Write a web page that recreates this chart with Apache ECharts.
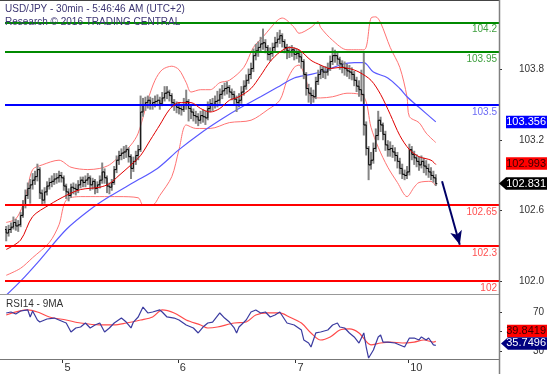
<!DOCTYPE html>
<html><head><meta charset="utf-8">
<script src="https://cdn.jsdelivr.net/npm/echarts@6/dist/echarts.min.js"></script>
<style>html,body{margin:0;padding:0;background:#fff}#c{width:554px;height:374px}</style>
</head><body><div id="c"></div>
<script>
// 30-min bars: [open, close, low, high]
const ohlc = [
[102.44,102.41,102.34,102.47],[102.41,102.44,102.38,102.48],[102.44,102.46,102.41,102.50],[102.46,102.50,102.44,102.55],[102.50,102.47,102.43,102.53],
[102.47,102.48,102.42,102.52],[102.48,102.56,102.46,102.59],[102.56,102.65,102.54,102.69],[102.65,102.73,102.62,102.78],[102.73,102.79,102.70,102.84],
[102.79,102.82,102.66,102.87],[102.82,102.86,102.78,102.92],[102.86,102.89,102.82,102.94],[102.89,102.95,102.85,103.00],[102.95,102.75,102.70,102.97],
[102.75,102.69,102.64,102.78],[102.69,102.76,102.66,102.80],[102.76,102.81,102.73,102.85],[102.81,102.84,102.78,102.88],[102.84,102.85,102.80,102.90],
[102.85,102.87,102.82,102.92],[102.87,102.88,102.83,102.92],[102.88,102.90,102.84,102.94],[102.90,102.88,102.84,102.93],[102.88,102.81,102.77,102.90],
[102.81,102.76,102.70,102.83],[102.76,102.73,102.68,102.79],[102.73,102.80,102.71,102.83],[102.80,102.79,102.74,102.84],[102.79,102.78,102.73,102.83],
[102.78,102.82,102.75,102.86],[102.82,102.86,102.79,102.89],[102.86,102.84,102.80,102.89],[102.84,102.86,102.80,102.90],[102.86,102.88,102.82,102.92],
[102.88,102.82,102.77,102.90],[102.82,102.85,102.78,102.88],[102.85,102.79,102.74,102.87],[102.79,102.82,102.75,102.85],[102.82,102.86,102.79,102.90],
[102.86,102.93,102.83,103.01],[102.93,102.88,102.83,102.96],[102.88,102.81,102.75,102.90],[102.81,102.80,102.74,102.84],[102.80,102.84,102.77,102.87],
[102.84,102.95,102.82,102.98],[102.95,103.03,102.92,103.07],[103.03,103.07,102.99,103.11],[103.07,103.09,103.03,103.13],[103.09,103.10,103.04,103.15],
[103.10,103.12,103.05,103.16],[103.12,103.06,103.01,103.14],[103.06,102.96,102.87,103.08],[102.96,103.02,102.93,103.06],[103.02,103.07,102.99,103.11],
[103.07,103.12,103.03,103.16],[103.12,103.44,103.10,103.58],[103.44,103.50,103.40,103.56],[103.50,103.52,103.45,103.57],[103.52,103.54,103.47,103.58],
[103.54,103.50,103.46,103.57],[103.50,103.52,103.46,103.56],[103.52,103.53,103.48,103.58],[103.53,103.54,103.49,103.59],[103.54,103.51,103.46,103.57],
[103.51,103.56,103.49,103.61],[103.56,103.60,103.53,103.66],[103.60,103.61,103.55,103.66],[103.61,103.58,103.53,103.63],[103.58,103.52,103.48,103.60],
[103.52,103.50,103.45,103.55],[103.50,103.48,103.43,103.53],[103.48,103.47,103.42,103.52],[103.47,103.46,103.41,103.51],[103.46,103.50,103.44,103.56],
[103.50,103.53,103.46,103.63],[103.53,103.47,103.36,103.55],[103.47,103.44,103.38,103.50],[103.44,103.41,103.36,103.47],[103.41,103.40,103.34,103.45],
[103.40,103.37,103.32,103.43],[103.37,103.41,103.34,103.45],[103.41,103.40,103.35,103.46],[103.40,103.39,103.33,103.45],[103.39,103.47,103.37,103.53],
[103.47,103.51,103.44,103.55],[103.51,103.50,103.45,103.56],[103.50,103.53,103.47,103.58],[103.53,103.54,103.48,103.62],[103.54,103.59,103.51,103.64],
[103.59,103.62,103.55,103.67],[103.62,103.64,103.58,103.69],[103.64,103.65,103.59,103.70],[103.65,103.61,103.56,103.67],[103.61,103.59,103.54,103.64],
[103.59,103.55,103.50,103.62],[103.55,103.52,103.44,103.58],[103.52,103.54,103.48,103.60],[103.54,103.61,103.51,103.66],[103.61,103.66,103.58,103.71],
[103.66,103.71,103.63,103.76],[103.71,103.76,103.68,103.81],[103.76,103.81,103.72,103.86],[103.81,103.92,103.78,103.98],[103.92,103.96,103.88,104.02],
[103.96,103.99,103.91,104.04],[103.99,104.02,103.95,104.08],[104.02,104.03,103.97,104.15],[104.03,103.99,103.94,104.06],[103.99,103.93,103.88,104.01],
[103.93,103.94,103.87,103.99],[103.94,103.99,103.91,104.03],[103.99,104.03,103.96,104.08],[104.03,104.06,103.99,104.12],[104.06,104.09,104.02,104.14],
[104.09,104.04,103.99,104.11],[104.04,103.99,103.94,104.06],[103.99,103.96,103.89,104.02],[103.96,103.95,103.90,104.00],[103.95,103.97,103.91,104.01],
[103.97,103.93,103.88,103.99],[103.93,103.94,103.89,103.98],[103.94,103.91,103.86,103.97],[103.91,103.87,103.81,103.94],[103.87,103.76,103.72,103.89],
[103.76,103.64,103.58,103.78],[103.64,103.60,103.52,103.68],[103.60,103.58,103.50,103.65],[103.58,103.57,103.52,103.63],[103.57,103.70,103.55,103.74],
[103.70,103.76,103.67,103.80],[103.76,103.80,103.72,103.84],[103.80,103.78,103.73,103.83],[103.78,103.78,103.72,103.83],[103.78,103.81,103.75,103.86],
[103.81,103.87,103.79,103.92],[103.87,103.92,103.84,103.99],[103.92,103.92,103.86,103.97],[103.92,103.89,103.84,103.95],[103.89,103.85,103.80,103.91],
[103.85,103.82,103.77,103.88],[103.82,103.81,103.75,103.87],[103.81,103.79,103.74,103.85],[103.79,103.78,103.72,103.84],[103.78,103.76,103.71,103.82],
[103.76,103.71,103.66,103.79],[103.71,103.66,103.61,103.74],[103.66,103.63,103.57,103.71],[103.63,103.59,103.53,103.80],[103.59,103.33,103.24,103.96],
[103.33,103.13,103.07,103.36],[103.13,102.99,102.86,103.15],[102.99,103.03,102.95,103.10],[103.03,103.13,103.00,103.18],[103.13,103.24,103.10,103.30],
[103.24,103.37,103.20,103.45],[103.37,103.33,103.27,103.40],[103.33,103.25,103.20,103.35],[103.25,103.16,103.11,103.28],[103.16,103.12,103.06,103.20],
[103.12,103.13,103.06,103.19],[103.13,103.10,103.05,103.16],[103.10,103.07,103.02,103.14],[103.07,103.02,102.96,103.10],[103.02,102.96,102.91,103.05],
[102.96,102.91,102.87,103.00],[102.91,102.90,102.86,102.95],[102.90,102.93,102.87,102.98],[102.93,103.12,102.90,103.17],[103.12,103.08,103.03,103.15],
[103.08,103.05,102.99,103.11],[103.05,103.02,102.97,103.08],[103.02,102.99,102.94,103.06],[102.99,103.02,102.96,103.07],[103.02,102.98,102.92,103.05],
[102.98,102.96,102.90,103.03],[102.96,102.93,102.88,103.00],[102.93,102.90,102.86,102.97],[102.90,102.88,102.84,102.94],[102.88,102.83,102.81,102.91]
];
// indicator lines: [barIndex, value]
const ma20 = [[0,102.27],[6,102.35],[11,102.55],[18,102.65],[25,102.73],[31,102.78],[39,102.80],[43,102.83],[47,102.90],[52,102.99],[56,103.07],[60,103.20],[64,103.33],[68,103.46],[72,103.52],[77,103.52],[81,103.47],[85,103.44],[89,103.47],[93,103.54],[97,103.57],[102,103.64],[106,103.75],[110,103.87],[114,103.95],[118,103.99],[122,103.97],[127,103.88],[131,103.84],[135,103.81],[139,103.82],[143,103.81],[147,103.78],[152,103.71],[156,103.59],[160,103.42],[164,103.24],[168,103.12],[172,103.06],[177,103.03],[179,102.993]];
const bbUpper = [[0,102.50],[4,102.53],[7,102.65],[9,102.80],[11,102.95],[15,102.99],[22,103.03],[27,102.97],[34,102.95],[39,102.96],[43,102.99],[47,103.06],[52,103.16],[55,103.26],[59,103.54],[62,103.71],[65,103.80],[69,103.83],[72,103.80],[75,103.69],[77,103.61],[81,103.63],[85,103.63],[89,103.69],[93,103.71],[99,103.82],[103,103.99],[107,104.08],[113,104.22],[115,104.24],[120,104.16],[122,104.11],[127,104.16],[130,104.21],[131,104.16],[136,104.05],[142,103.97],[149,103.97],[152,104.24],[154,104.25],[156,104.20],[160,103.99],[164,103.82],[167,103.57],[168,103.40],[172,103.35],[175,103.26],[179,103.18]];
const bbLower = [[0,102.05],[6,102.11],[11,102.20],[18,102.33],[22,102.48],[25,102.69],[31,102.72],[39,102.72],[47,102.72],[55,102.71],[57,102.65],[61,102.65],[64,102.73],[69,102.89],[72,103.12],[75,103.33],[79,103.30],[85,103.30],[93,103.35],[102,103.37],[109,103.46],[114,103.54],[117,103.71],[120,103.82],[122,103.84],[125,103.71],[127,103.57],[131,103.56],[136,103.57],[142,103.60],[149,103.57],[152,103.31],[155,103.14],[159,102.97],[163,102.84],[167,102.72],[170,102.80],[172,102.84],[177,102.85],[179,102.81]];
const maLong = [[0,101.88],[6,102.00],[14,102.18],[25,102.44],[35,102.61],[43,102.72],[53,102.84],[63,102.96],[72,103.12],[81,103.26],[89,103.37],[97,103.47],[106,103.57],[113,103.65],[120,103.73],[127,103.76],[134,103.80],[139,103.84],[145,103.86],[149,103.86],[153,103.78],[159,103.73],[164,103.64],[167,103.57],[172,103.48],[179,103.356]];
const rsi = [[0,69.0],[2,70.0],[4,67.9],[6,71.0],[9,72.1],[10,64.9],[11,71.0],[13,61.8],[14,59.7],[17,62.8],[20,63.8],[22,61.8],[24,59.7],[25,58.7],[27,49.5],[29,53.6],[31,54.6],[33,58.7],[35,53.6],[37,56.7],[39,58.7],[41,49.5],[43,53.6],[45,58.7],[48,63.8],[50,59.7],[52,53.6],[53,59.7],[55,64.9],[57,75.1],[59,69.0],[61,70.0],[64,72.1],[65,70.0],[67,64.9],[70,63.8],[72,61.8],[75,56.7],[78,53.6],[80,48.5],[82,54.6],[84,58.7],[86,59.7],[89,69.0],[91,63.8],[93,59.7],[95,53.6],[96,48.5],[97,54.6],[100,61.8],[102,70.0],[104,72.1],[106,69.0],[108,70.0],[110,64.9],[112,66.9],[114,70.0],[117,58.7],[120,56.7],[123,51.5],[124,41.3],[126,38.2],[127,34.1],[129,48.5],[131,49.5],[134,51.5],[136,56.7],[138,58.7],[139,54.6],[141,53.6],[143,48.5],[145,44.4],[147,38.2],[149,48.5],[150,34.1],[151,22.8],[153,31.0],[155,44.4],[156,46.4],[157,39.2],[159,39.2],[162,38.2],[164,36.2],[166,34.1],[168,43.3],[170,43.3],[172,41.3],[173,44.4],[175,41.3],[176,43.3],[178,36.2],[179,35.7496]];
const rsiMA = [[0,66.9],[9,72.1],[13,70.0],[18,64.9],[25,61.8],[31,58.7],[39,56.7],[45,56.7],[50,58.7],[56,61.8],[61,64.9],[65,72.1],[70,69.0],[75,61.8],[81,56.7],[84,53.6],[88,54.6],[95,58.7],[100,59.7],[104,66.9],[109,69.0],[114,69.0],[118,64.9],[123,58.7],[127,48.5],[131,41.3],[135,44.4],[139,51.5],[143,52.6],[147,48.5],[152,36.2],[156,38.2],[160,39.2],[165,38.2],[170,39.2],[174,41.3],[178,39.2],[179,39.8419]];
// horizontal key levels
const levelValues = [104.2, 103.95, 103.5, 102.65, 102.3, 102.0];
const levelTexts  = ['104.2','103.95','103.5','102.65','102.3','102'];
const levelKinds  = ['green','green','blue','red','red','red'];
const forecastArrow = [[181.6, 102.85], [189.0, 102.31]];
const dayLabels = ['5','6','7','10'];
const dayStarts = [23.5, 71.5, 120.5, 167.5];
const priceTicks = [102.0, 102.6, 103.2, 103.8];
const rsiTicks = [30, 50, 70];
const lastClose = 102.831, lastMA20 = 102.993, lastMALong = 103.356, lastRSI = 35.7496, lastRSIMA = 39.8419;

const FONT = 'Liberation Sans, Arial, sans-serif';
const kindStyle = {
  green: {line:'#008a00', text:'#3f9f3f'},
  blue:  {line:'#0000ff', text:'#6b6bf5'},
  red:   {line:'#ff0000', text:'#ff5050'}
};

const chart = echarts.init(document.getElementById('c'), null, {renderer:'canvas'});

function renderOHLC(params, api) {
  const i = api.value(0);
  const o = api.coord([i, api.value(1)]);
  const c = api.coord([i, api.value(2)]);
  const l = api.coord([i, api.value(3)]);
  const h = api.coord([i, api.value(4)]);
  const x = o[0];
  return {type:'group', children:[
    {type:'line', shape:{x1:x, y1:l[1], x2:x, y2:h[1]}, style:{stroke:'#858585', lineWidth:2}},
    {type:'line', shape:{x1:x, y1:o[1], x2:x, y2:c[1]}, style:{stroke:'#111', lineWidth:1}},
    {type:'line', shape:{x1:x-1.5, y1:o[1], x2:x, y2:o[1]}, style:{stroke:'#000', lineWidth:1}},
    {type:'line', shape:{x1:x, y1:c[1], x2:x+1.5, y2:c[1]}, style:{stroke:'#000', lineWidth:1}}
  ]};
}

const xCommon = {type:'value', min:-0.5, max:205.33, splitLine:{show:false}, axisLine:{show:false, onZero:false}};
const option = {
  animation:false,
  backgroundColor:'#fff',
  textStyle:{fontFamily:FONT},
  title:[
    {text:'USD/JPY - 30min - 5:46:46 AM (UTC+2)', subtext:'Research © 2016 TRADING CENTRAL', left:5, top:3, padding:0, itemGap:0,
     textStyle:{fontSize:10, fontWeight:'normal', color:'#3c3573', fontFamily:FONT, lineHeight:13},
     subtextStyle:{fontSize:10, color:'#3c3573', fontFamily:FONT, lineHeight:13}},
    {text:'RSI14 - 9MA', left:6, top:299, padding:0,
     textStyle:{fontSize:10, fontWeight:'normal', color:'#333', fontFamily:FONT}}
  ],
  grid:[
    {left:5, right:55, top:1, bottom:80},
    {left:5, right:55, top:296, bottom:15}
  ],
  xAxis:[
    Object.assign({gridIndex:0, axisTick:{show:false}, axisLabel:{show:false}}, xCommon),
    Object.assign({gridIndex:1,
      axisTick:{show:true, customValues:dayStarts, length:4, lineStyle:{color:'#333'}},
      axisLabel:{show:true, customValues:dayStarts, formatter:v=>dayLabels[dayStarts.indexOf(v)] || '', align:'left', margin:3, padding:[0,0,0,2], fontSize:11, color:'#333', fontFamily:FONT}
    }, xCommon)
  ],
  yAxis:[
    {type:'value', gridIndex:0, position:'right', min:101.891, max:104.385, splitLine:{show:false}, axisLine:{show:false, onZero:false},
     axisTick:{show:true, customValues:priceTicks, length:3, lineStyle:{color:'#333'}},
     axisLabel:{customValues:priceTicks, formatter:v=>v.toFixed(1), fontSize:10, color:'#333', margin:45, align:'right', fontFamily:FONT}},
    {type:'value', gridIndex:1, position:'right', min:21.8, max:86.4, splitLine:{show:false}, axisLine:{show:false, onZero:false},
     axisTick:{show:true, customValues:rsiTicks, length:3, lineStyle:{color:'#333'}},
     axisLabel:{customValues:rsiTicks, formatter:v=>String(v), fontSize:10, color:'#333', margin:45, align:'right', fontFamily:FONT}}
  ],
  series:[
    {type:'line', name:'BB upper', xAxisIndex:0, yAxisIndex:0, data:bbUpper, symbol:'none', smooth:0.3, lineStyle:{color:'#ff7373', width:1}, z:3},
    {type:'line', name:'BB lower', xAxisIndex:0, yAxisIndex:0, data:bbLower, symbol:'none', smooth:0.3, lineStyle:{color:'#ff7373', width:1}, z:3},
    {type:'line', name:'MA long', xAxisIndex:0, yAxisIndex:0, data:maLong, symbol:'none', smooth:0.3, lineStyle:{color:'#5a5aff', width:1.2}, z:3},
    {type:'custom', name:'USDJPY', xAxisIndex:0, yAxisIndex:0, renderItem:renderOHLC,
     data:ohlc.map((d,i)=>[i, d[0], d[1], d[2], d[3]]), encode:{x:0, y:[1,2,3,4]}, z:4, clip:true},
    {type:'line', name:'MA20', xAxisIndex:0, yAxisIndex:0, data:ma20, symbol:'none', smooth:0.3, lineStyle:{color:'#e00000', width:1}, z:5,
     markLine:{silent:true, symbol:['none','none'], animation:false,
       data:levelValues.map((v,k)=>({yAxis:v,
         lineStyle:{color:kindStyle[levelKinds[k]].line, width:2, type:'solid'},
         label:{show:true, position:'insideEndBottom', formatter:levelTexts[k], color:kindStyle[levelKinds[k]].text, fontSize:10, fontFamily:FONT, distance:[2,2]}}))
       .concat([[{coord:forecastArrow[0], symbol:'none', lineStyle:{color:'#000066', width:2, type:'solid'}, label:{show:false}},
                 {coord:forecastArrow[1], symbol:'arrow', symbolSize:[9,14]}]])
     }},
    {type:'line', name:'RSI', xAxisIndex:1, yAxisIndex:1, data:rsi, symbol:'none', lineStyle:{color:'#3b3ba0', width:1.2}, z:4},
    {type:'line', name:'RSI MA', xAxisIndex:1, yAxisIndex:1, data:rsiMA, symbol:'none', smooth:0.3, lineStyle:{color:'#ff4a4a', width:1.2}, z:3}
  ]
};
chart.setOption(option);

function box(y, text, fill, color, x0, arrow) {
  const h = 12.5, x1 = 547;
  const pts = arrow ? [[x0, y],[x0+7, y-h/2],[x1, y-h/2],[x1, y+h/2],[x0+7, y+h/2]]
                    : [[x0, y-h/2],[x1, y-h/2],[x1, y+h/2],[x0, y+h/2]];
  return {type:'group', zlevel:1, z:100, children:[
    {type:'polygon', zlevel:1, z:100, shape:{points:pts}, style:{fill:fill}},
    {type:'text', zlevel:1, z:101, style:{text:text, x:546, y:y, textAlign:'right', textVerticalAlign:'middle', align:'right', verticalAlign:'middle', fill:color, font:'11px ' + FONT}}
  ]};
}
const yMALong = chart.convertToPixel({yAxisIndex:0}, lastMALong);
const yMA20 = chart.convertToPixel({yAxisIndex:0}, lastMA20);
const yClose = chart.convertToPixel({yAxisIndex:0}, lastClose);
const yRSI = chart.convertToPixel({yAxisIndex:1}, lastRSI) - 2;
const yRSIMA = yRSI - 12.5;
chart.setOption({graphic:[
  {type:'line', z:50, shape:{x1:0, y1:0.5, x2:499, y2:0.5}, style:{stroke:'#444', lineWidth:1}},
  {type:'line', z:50, shape:{x1:0, y1:294.5, x2:499, y2:294.5}, style:{stroke:'#999', lineWidth:1}},
  {type:'line', z:50, shape:{x1:0, y1:359.5, x2:499, y2:359.5}, style:{stroke:'#777', lineWidth:1}},
  {type:'line', z:50, shape:{x1:499.5, y1:0, x2:499.5, y2:374}, style:{stroke:'#808080', lineWidth:1.5}},
  box(yMALong, lastMALong.toFixed(3), '#0000ff', '#ffffff', 506, false),
  box(yMA20 - 1, lastMA20.toFixed(3), '#ff0000', '#3a0000', 506, false),
  box(yClose, lastClose.toFixed(3), '#000000', '#ffffff', 499, true),
  box(yRSIMA, lastRSIMA.toFixed(4), '#ff0000', '#3a0000', 507, false),
  box(yRSI, lastRSI.toFixed(4), '#000080', '#ffffff', 501, true)
]});
</script></body></html>
